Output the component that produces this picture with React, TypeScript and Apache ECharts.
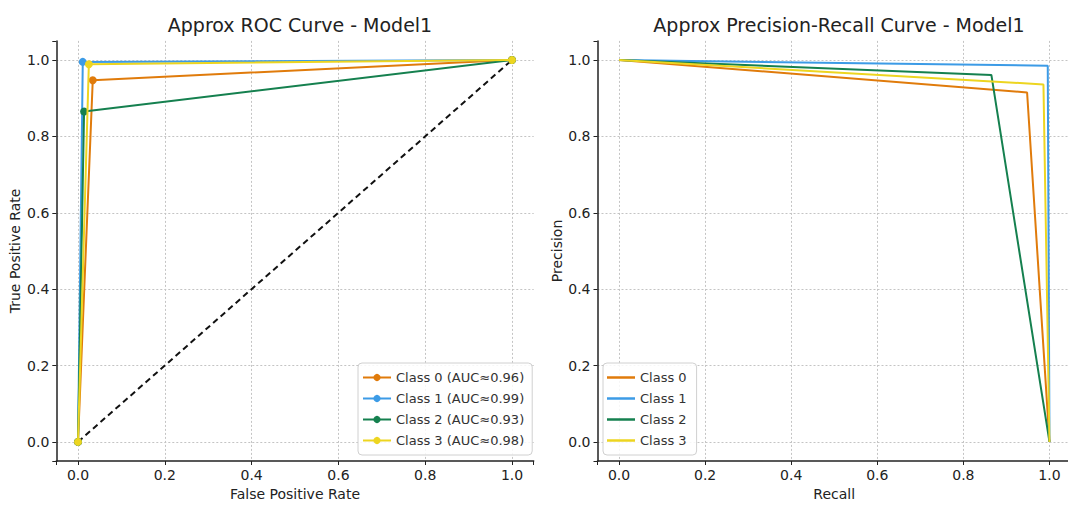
import React, { useEffect, useRef } from "react";
import * as echarts from "echarts";

const classNames = ["Class 0", "Class 1", "Class 2", "Class 3"];
const aucLabels = ["0.96", "0.99", "0.93", "0.98"];
const colors = ["#E07B0B", "#3C9BE6", "#15804F", "#EDD520"];

const rocFpr = [
  [0, 0.034, 1],
  [0, 0.011, 1],
  [0, 0.014, 1],
  [0, 0.025, 1],
];
const rocTpr = [
  [0, 0.947, 1],
  [0, 0.995, 1],
  [0, 0.865, 1],
  [0, 0.989, 1],
];
const prRecall = [
  [0, 0.948, 1],
  [0, 0.996, 1],
  [0, 0.865, 1],
  [0, 0.986, 1],
];
const prPrecision = [
  [1, 0.915, 0],
  [1, 0.985, 0],
  [1, 0.961, 0],
  [1, 0.936, 0],
];
const diagX = [0, 1];
const diagY = [0, 1];

const FONT = "DejaVu Sans";
const TXT = "#222";

function makeAxis(gridIndex: number, name: string, nameGap: number) {
  return {
    type: "value",
    gridIndex,
    min: -0.05,
    max: 1.05,
    splitNumber: 5,
    name,
    nameLocation: "middle",
    nameGap,
    nameTextStyle: { fontFamily: FONT, fontSize: 14, color: TXT },
    axisLine: { show: true, onZero: false, lineStyle: { color: TXT, width: 1.5 } },
    axisTick: {
      show: true,
      length: 4,
      inside: false,
      lineStyle: { color: TXT, width: 1 },
    },
    axisLabel: {
      fontFamily: FONT,
      fontSize: 14,
      color: TXT,
      margin: 7,
      formatter: (v: number) => {
        if (v < -0.001 || v > 1.001) return "";
        return (Math.abs(v) < 1e-9 ? 0 : v).toFixed(1);
      },
    },
    splitLine: {
      show: true,
      showMinLine: false,
      showMaxLine: false,
      lineStyle: { color: "#c4c4c4", width: 1, type: [2, 2] },
    },
  };
}

export default function App() {
  const ref = useRef<HTMLDivElement>(null);
  useEffect(() => {
    document.body.style.margin = "0";
    document.body.style.overflow = "hidden";
    if (!ref.current) return;
    const chart = echarts.init(ref.current, null, { renderer: "svg" });

    const rocNames = classNames.map((c, i) => `${c} (AUC≈${aucLabels[i]})`);
    const series: any[] = [];
    classNames.forEach((_, i) => {
      series.push({
        type: "line",
        name: rocNames[i],
        xAxisIndex: 0,
        yAxisIndex: 0,
        data: rocFpr[i].map((x, j) => [x, rocTpr[i][j]]),
        symbol: "circle",
        symbolSize: 8,
        showSymbol: true,
        color: colors[i],
        lineStyle: { width: 2, color: colors[i] },
        itemStyle: { color: colors[i] },
        z: 3 + i,
      });
    });
    series.push({
      type: "line",
      name: "diag",
      xAxisIndex: 0,
      yAxisIndex: 0,
      data: diagX.map((x, j) => [x, diagY[j]]),
      symbol: "none",
      lineStyle: { width: 2, color: "#111", type: [6, 4] },
      z: 2,
    });
    classNames.forEach((c, i) => {
      series.push({
        type: "line",
        name: c,
        xAxisIndex: 1,
        yAxisIndex: 1,
        data: prRecall[i].map((x, j) => [x, prPrecision[i][j]]),
        symbol: "none",
        showSymbol: false,
        color: colors[i],
        lineStyle: { width: 2, color: colors[i] },
        itemStyle: { color: colors[i] },
        z: 3 + i,
      });
    });

    const legendCommon = {
      orient: "vertical",
      itemWidth: 28,
      itemGap: 8,
      backgroundColor: "rgba(255,255,255,0.85)",
      borderColor: "#d0d0d0",
      borderWidth: 1,
      borderRadius: 4,
      textStyle: { fontFamily: FONT, fontSize: 13, color: "#333" },
      selectedMode: false,
    };

    chart.setOption({
      animation: false,
      backgroundColor: "#fff",
      title: [
        {
          text: "Approx ROC Curve - Model1",
          left: 295,
          top: 10,
          textAlign: "center",
          textStyle: { fontFamily: FONT, fontSize: 19, fontWeight: "normal", color: TXT },
        },
        {
          text: "Approx Precision-Recall Curve - Model1",
          left: 834,
          top: 10,
          textAlign: "center",
          textStyle: { fontFamily: FONT, fontSize: 19, fontWeight: "normal", color: TXT },
        },
      ],
      legend: [
        {
          ...legendCommon,
          data: rocNames,
          left: 358,
          top: 363,
          itemHeight: 9,
          padding: [8, 8, 8, 4],
        },
        {
          ...legendCommon,
          data: classNames.map((n) => ({ name: n, icon: "rect" })),
          left: 603,
          top: 363,
          itemHeight: 2.5,
          padding: [8, 10, 8, 4],
        },
      ],
      grid: [
        { left: 56.3, top: 40.9, width: 477.4, height: 420.2 },
        { left: 597.5, top: 40.9, width: 474.1, height: 420.2 },
      ],
      xAxis: [
        makeAxis(0, "False Positive Rate", 26),
        makeAxis(1, "Recall", 26),
      ],
      yAxis: [
        makeAxis(0, "True Positive Rate", 34),
        makeAxis(1, "Precision", 34),
      ],
      series,
    });
    return () => chart.dispose();
  }, []);
  return <div ref={ref} style={{ width: 1074, height: 506 }} />;
}
